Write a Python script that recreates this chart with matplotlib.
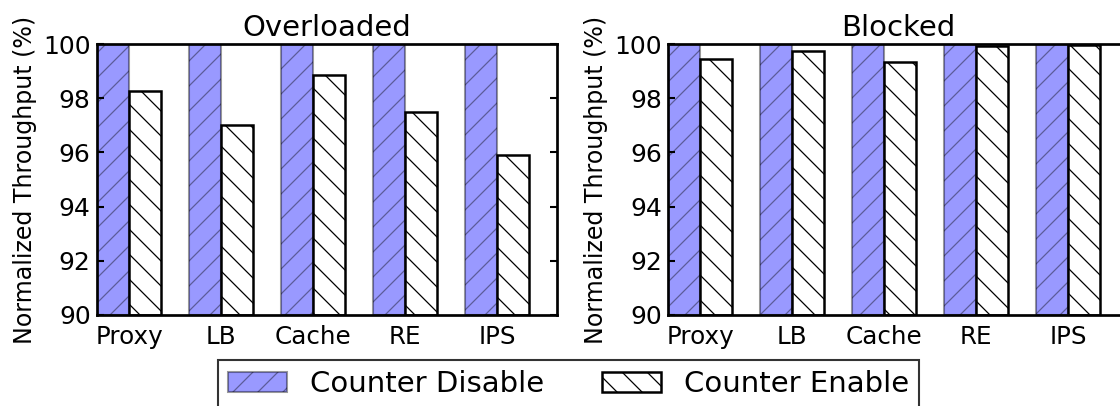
import matplotlib
matplotlib.use("Agg")
import matplotlib.pyplot as plt
import numpy as np

categories = ["Proxy", "LB", "Cache", "RE", "IPS"]
overloaded_disable = [100, 100, 100, 100, 100]
overloaded_enable = [98.25, 97.0, 98.85, 97.5, 95.9]
blocked_disable = [100, 100, 100, 100, 100]
blocked_enable = [99.45, 99.75, 99.35, 99.93, 99.95]
yticks = [90, 92, 94, 96, 98, 100]

plt.rcParams["font.family"] = "DejaVu Sans"
plt.rcParams["hatch.linewidth"] = 0.6
plt.rcParams["axes.linewidth"] = 1.3

W, H, DPI = 1120, 406, 150
fig = plt.figure(figsize=(W / DPI, H / DPI), dpi=DPI, facecolor="white")

x = np.arange(len(categories))
bw = 0.35
tick_fs = 11.8


def panel(rect, title, disable, enable):
    ax = fig.add_axes(rect)
    b1 = ax.bar(x, [v - 90 for v in disable], bw, bottom=90, align="edge",
                color="blue", alpha=0.4, edgecolor="black", hatch="//",
                linewidth=1.0, label="Counter Disable")
    b2 = ax.bar(x + bw, [v - 90 for v in enable], bw, bottom=90, align="edge",
                color="white", edgecolor="black", hatch="\\\\",
                linewidth=1.2, label="Counter Enable")
    ax.set_xlim(0, len(categories))
    ax.set_ylim(90, 100)
    ax.set_yticks(yticks)
    ax.set_xticks(x + bw)
    ax.set_xticklabels(categories)
    ax.tick_params(axis="x", length=0, labelsize=tick_fs, pad=5)
    ax.tick_params(axis="y", direction="in", right=True, length=3.5,
                   width=1.0, labelsize=12, pad=3)
    ax.set_title(title, fontsize=14, pad=4)
    ax.set_ylabel("Normalized Throughput (%)", fontsize=11.4, labelpad=3)
    return ax, b1, b2


axw = 460 / W
axb = 1 - 315 / H
axh = (315 - 44) / H
ax1, h1, h2 = panel([97 / W, axb, axw, axh], "Overloaded",
                    overloaded_disable, overloaded_enable)
ax2, _, _ = panel([668 / W, axb, axw, axh], "Blocked",
                  blocked_disable, blocked_enable)

fig.legend([h1, h2], ["Counter Disable", "Counter Enable"], ncol=2,
           loc="upper left", bbox_to_anchor=(218 / W, 1 - 360 / H),
           borderaxespad=0, fontsize=14, frameon=True, fancybox=False,
           edgecolor="black", handlelength=2.0, handletextpad=0.8,
           columnspacing=2.0, borderpad=0.35)

fig.savefig("out.png", dpi=DPI, facecolor="white")
